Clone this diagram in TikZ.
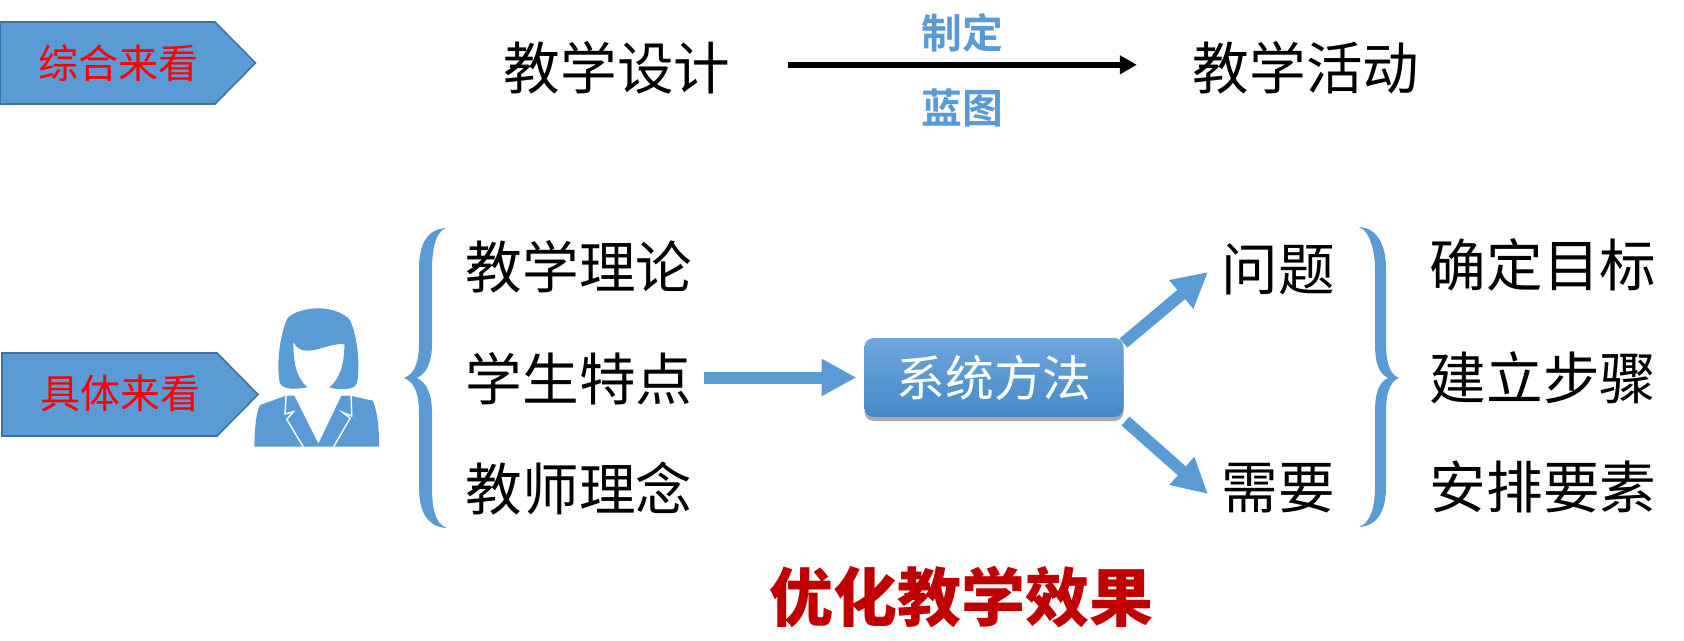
\documentclass[tikz,border=0pt]{standalone}
\usepackage{fontspec}
\setmainfont{Noto Sans CJK SC}
\newfontfamily\boldf{Noto Sans CJK SC Bold}
\newfontfamily\heavyf{Noto Sans CJK SC Black}
\usetikzlibrary{arrows.meta,shadows}
\definecolor{mblue}{HTML}{5B9BD5}
\definecolor{mborder}{HTML}{41719C}
\definecolor{mred}{HTML}{FF0000}
\definecolor{mdred}{HTML}{C00000}
\definecolor{boxtop}{HTML}{6FA6DD}
\definecolor{boxbot}{HTML}{4589C8}
\tikzset{
  x=0.5pt,y=-0.5pt,
  txt/.style={inner sep=0pt,outer sep=0pt,text=black,font=\fontsize{28.3}{28.3}\selectfont},
  tag/.style={inner sep=0pt,outer sep=0pt,text=mred,font=\fontsize{20}{20}\selectfont},
  sub/.style={inner sep=0pt,outer sep=0pt,text=mblue,font=\boldf\fontsize{20.4}{20.4}\selectfont},
  pent/.style={fill=mblue,draw=mborder,line width=0.8pt,line join=miter},
  fat/.style={draw=mblue,line width=6pt,-{Triangle[length=17.5pt,width=17.5pt]}},
  thin arrow/.style={draw=black,line width=3pt,-{Triangle[length=8.5pt,width=9pt]}},
  brace/.style={fill=mblue,draw=none},
}
\begin{document}
\begin{tikzpicture}
\useasboundingbox (0,0) rectangle (1684,641);
% tags
\draw[pent] (0,22) -- (215,22) -- (255.5,63) -- (215,104) -- (0,104) -- cycle;
\node[tag] (zonghe) at (118.5,63) {综合来看};
\draw[pent] (2,353) -- (217,353) -- (258,394.5) -- (217,436) -- (2,436) -- cycle;
\node[tag] (juti) at (120,393) {具体来看};
% top row
\node[txt] (sheji) at (617,68) {教学设计};
\node[txt] (huodong) at (1306,68) {教学活动};
\draw[thin arrow,shorten <=29pt,shorten >=28pt] ([yshift=1.6pt]sheji.east) -- ([yshift=1.6pt]huodong.west);
\node[sub] (zhiding) at (962,33) {制定};
\node[sub] (lantu) at (962,108) {蓝图};
% person
\begin{scope}[x=0.1667pt,y=-0.1667pt,yshift=-140pt]
\fill[mblue] (955,85) .. controls (1010,85) and (1045,110) .. (1052,125)
  .. controls (1070,170) and (1075,220) .. (1075,260)
  .. controls (1075,290) and (1072,310) .. (1065,318)
  .. controls (1050,330) and (1010,330) .. (988,322)
  .. controls (1015,300) and (1033,260) .. (1033,192)
  .. controls (990,190) and (960,212) .. (920,212)
  .. controls (900,212) and (885,200) .. (880,185)
  .. controls (880,240) and (885,290) .. (922,322)
  .. controls (890,328) and (850,330) .. (840,310)
  .. controls (835,295) and (835,270) .. (835,250)
  .. controls (837,190) and (850,140) .. (862,115)
  .. controls (880,95) and (920,85) .. (955,85) -- cycle;
\fill[mblue] (763,500) .. controls (764,430) and (770,395) .. (780,375)
  -- (858,347) -- (1050,347) -- (1118,362)
  .. controls (1130,390) and (1137,430) .. (1137,500) -- cycle;
\fill[white] (882,344) -- (955,490) -- (1025,344) -- cycle;
\draw[white,line width=0.7pt,line join=miter]
  (858,347) -- (855,402) -- (880,395) -- (860,418) -- (910,501);
\draw[white,line width=0.7pt,line join=miter]
  (1053,347) -- (1055,408) -- (1028,397) -- (1050,415) -- (1000,501);
\end{scope}
% left brace
\fill[brace] (446,228) .. controls (434,232) and (432,255) .. (432,269) -- (432,343)
  .. controls (432,362) and (427,373) .. (417,378)
  .. controls (427,383) and (432,394) .. (432,413) -- (432,487)
  .. controls (432,505) and (434,524) .. (447,528)
  .. controls (426,527) and (419,510) .. (419,487) -- (419,413)
  .. controls (419,395) and (415,382) .. (404,378)
  .. controls (415,374) and (419,361) .. (419,343) -- (419,269)
  .. controls (419,246) and (426,229) .. (446,228) -- cycle;
% left texts
\node[txt] (lilun) at (579,267) {教学理论};
\node[txt] (tedian) at (579,379) {学生特点};
\node[txt] (linian) at (579,489) {教师理念};
% centre box
\node[minimum width=129.5pt,minimum height=39.5pt,inner sep=0pt,outer sep=0pt,rounded corners=4.5pt,
  top color=boxtop,bottom color=boxbot,
  drop shadow={shadow xshift=0pt,shadow yshift=-2pt,opacity=.55,fill=black!60},
  text=white,font=\fontsize{24.4}{24.4}\selectfont] (fangfa) at (994,377.5) {系统方法};
\draw[fat,shorten <=6pt,shorten >=4pt] (tedian.east |- fangfa.west) -- (fangfa.west);
% right nodes
\node[txt] (wenti) at (1278,269) {问题};
\node[txt] (xuyao) at (1278,488) {需要};
\coordinate (uptip) at (1208,272);
\coordinate (downtip) at (1208,494);
\draw[fat] ([yshift=-2.5pt]fangfa.north east) -- (uptip);
\draw[fat] ([xshift=1pt,yshift=-2pt]fangfa.south east) -- (downtip);
% right brace
\fill[brace] (1359,227) .. controls (1378,228) and (1386,246) .. (1386,269) -- (1386,343)
  .. controls (1386,361) and (1389,374) .. (1399,378)
  .. controls (1389,382) and (1386,395) .. (1386,413) -- (1386,487)
  .. controls (1386,510) and (1378,526) .. (1359,527)
  .. controls (1371,523) and (1375,505) .. (1375,487) -- (1375,413)
  .. controls (1375,394) and (1378,383) .. (1388,378)
  .. controls (1378,373) and (1375,362) .. (1375,343) -- (1375,269)
  .. controls (1375,255) and (1371,231) .. (1359,227) -- cycle;
% far right
\node[txt] (mubiao) at (1543,265) {确定目标};
\node[txt] (buzhou) at (1543,378) {建立步骤};
\node[txt] (yaosu) at (1543,487) {安排要素};
% bottom
\node[inner sep=0pt,text=mdred,font=\heavyf\fontsize{32}{32}\selectfont] (xiaoguo) at (961,597) {优化教学效果};
\end{tikzpicture}
\end{document}
